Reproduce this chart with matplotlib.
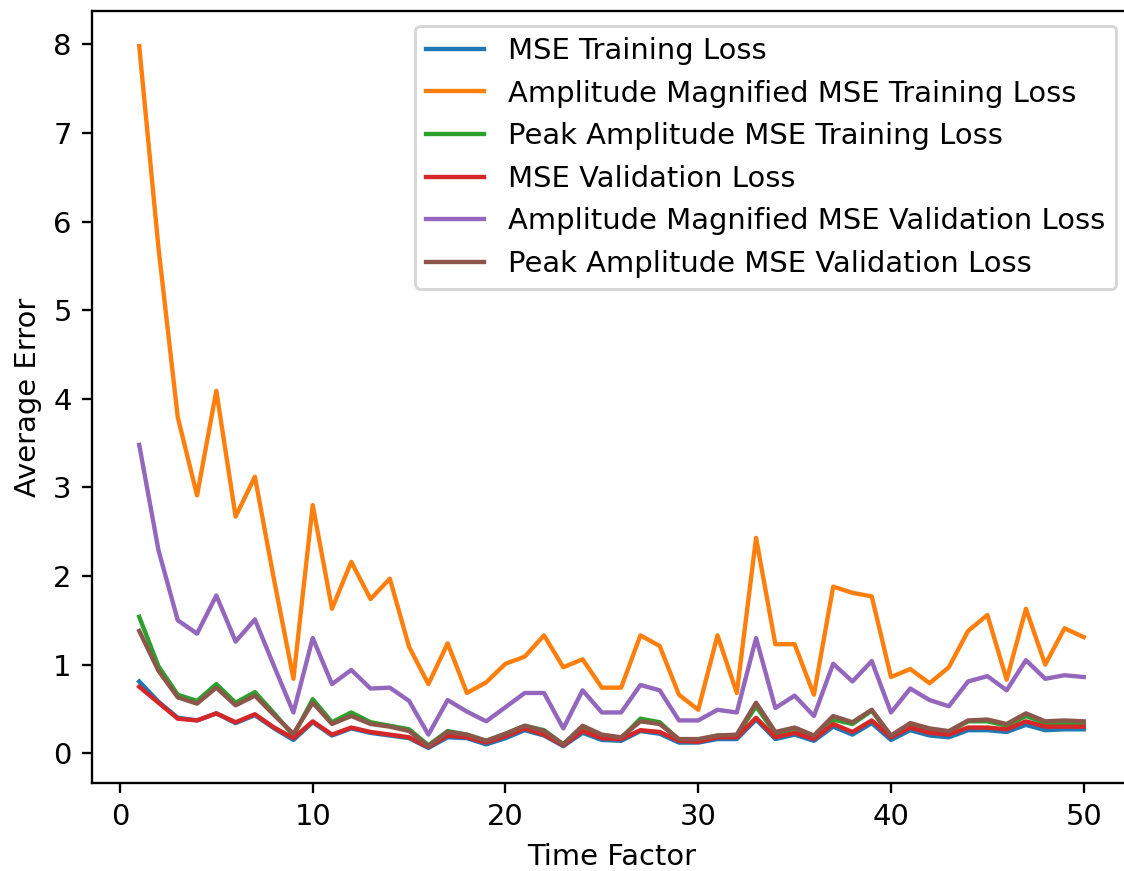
import matplotlib
matplotlib.use("Agg")
import matplotlib.pyplot as plt
import numpy as np

time_factor = list(range(1, 51))

mse_train = [0.81, 0.58, 0.40, 0.37, 0.45, 0.34, 0.43, 0.28, 0.15, 0.35,
             0.20, 0.28, 0.23, 0.20, 0.17, 0.06, 0.18, 0.17, 0.10, 0.17,
             0.26, 0.20, 0.08, 0.23, 0.15, 0.14, 0.25, 0.22, 0.12, 0.12,
             0.16, 0.16, 0.38, 0.16, 0.21, 0.14, 0.30, 0.21, 0.34, 0.15,
             0.26, 0.20, 0.18, 0.26, 0.26, 0.24, 0.32, 0.26, 0.27, 0.27]

amp_train = [7.98, 5.70, 3.79, 2.91, 4.09, 2.67, 3.12, 1.95, 0.84, 2.80,
             1.63, 2.16, 1.74, 1.97, 1.20, 0.78, 1.24, 0.68, 0.80, 1.01,
             1.09, 1.33, 0.97, 1.06, 0.74, 0.74, 1.33, 1.21, 0.66, 0.49,
             1.33, 0.68, 2.43, 1.23, 1.23, 0.66, 1.88, 1.81, 1.77, 0.86,
             0.95, 0.79, 0.97, 1.38, 1.56, 0.83, 1.63, 1.00, 1.41, 1.31]

peak_train = [1.54, 0.98, 0.66, 0.59, 0.78, 0.57, 0.69, 0.45, 0.20, 0.61,
              0.35, 0.46, 0.35, 0.31, 0.27, 0.09, 0.25, 0.21, 0.14, 0.22,
              0.31, 0.26, 0.10, 0.30, 0.20, 0.17, 0.39, 0.35, 0.15, 0.15,
              0.20, 0.20, 0.53, 0.22, 0.28, 0.19, 0.38, 0.33, 0.48, 0.19,
              0.33, 0.27, 0.24, 0.36, 0.36, 0.31, 0.42, 0.34, 0.34, 0.33]

mse_val = [0.75, 0.57, 0.39, 0.37, 0.45, 0.35, 0.44, 0.29, 0.17, 0.36,
           0.21, 0.29, 0.24, 0.21, 0.18, 0.07, 0.20, 0.18, 0.12, 0.19,
           0.28, 0.21, 0.09, 0.25, 0.17, 0.16, 0.26, 0.24, 0.14, 0.13,
           0.18, 0.18, 0.40, 0.18, 0.23, 0.16, 0.33, 0.24, 0.37, 0.18,
           0.29, 0.23, 0.21, 0.29, 0.29, 0.27, 0.36, 0.30, 0.30, 0.30]

amp_val = [3.48, 2.29, 1.50, 1.35, 1.78, 1.26, 1.51, 0.98, 0.46, 1.30,
           0.78, 0.94, 0.73, 0.74, 0.59, 0.21, 0.60, 0.47, 0.36, 0.52,
           0.68, 0.68, 0.28, 0.71, 0.46, 0.46, 0.77, 0.71, 0.37, 0.37,
           0.49, 0.46, 1.30, 0.51, 0.65, 0.42, 1.01, 0.81, 1.04, 0.46,
           0.73, 0.60, 0.53, 0.81, 0.87, 0.71, 1.05, 0.84, 0.88, 0.86]

peak_val = [1.38, 0.93, 0.63, 0.56, 0.74, 0.54, 0.65, 0.43, 0.22, 0.57,
            0.33, 0.42, 0.33, 0.30, 0.25, 0.08, 0.24, 0.21, 0.14, 0.22,
            0.31, 0.25, 0.10, 0.31, 0.21, 0.18, 0.36, 0.33, 0.16, 0.16,
            0.20, 0.21, 0.57, 0.24, 0.29, 0.20, 0.42, 0.35, 0.49, 0.20,
            0.34, 0.28, 0.25, 0.37, 0.38, 0.33, 0.45, 0.36, 0.37, 0.36]

labels = ["MSE Training Loss",
          "Amplitude Magnified MSE Training Loss",
          "Peak Amplitude MSE Training Loss",
          "MSE Validation Loss",
          "Amplitude Magnified MSE Validation Loss",
          "Peak Amplitude MSE Validation Loss"]

series = [mse_train, amp_train, peak_train, mse_val, amp_val, peak_val]

DPI = 209
fig = plt.figure(figsize=(1124 / DPI, 871 / DPI), dpi=DPI)
ax = fig.add_axes([92 / 1124, 1 - 783 / 871, (1131 - 92) / 1124, (783 - 11) / 871])

for s, lab in zip(series, labels):
    ax.plot(time_factor, s, label=lab)

ax.set_xlabel("Time Factor")
ax.set_ylabel("Average Error")
ax.legend(loc="upper right")

fig.savefig("out.png", dpi=DPI)
